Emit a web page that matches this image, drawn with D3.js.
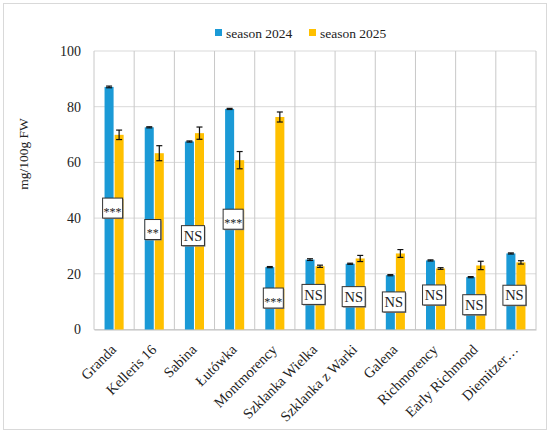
<!DOCTYPE html>
<html>
<head>
<meta charset="utf-8">
<script src="https://cdn.jsdelivr.net/npm/d3@7"></script>
<style>
	body { margin: 0; background: #fff; }
	text { font-family: "Palatino Linotype", "Book Antiqua", "Liberation Serif", serif; fill: #222; }
</style>
</head>
<body>
<div id="chart"></div>
<script>
var cultivars = ['Granda', 'Kelleris 16', 'Sabina', 'Łutówka', 'Montmorency', 'Szklanka Wielka',
	'Szklanka z Warki', 'Galena', 'Richmorency', 'Early Richmond', 'Diemitzer…'];
var season2024 = [87.1, 72.6, 67.5, 79.2, 22.4, 25.1, 23.6, 19.5, 24.8, 18.8, 27.3];
var season2024Err = [0.3, 0.2, 0.2, 0.2, 0.2, 0.3, 0.2, 0.2, 0.2, 0.2, 0.2];
var season2025 = [69.9, 63.3, 70.5, 60.8, 76.3, 22.7, 25.5, 27.3, 21.9, 23.0, 24.1];
var season2025Err = [1.7, 2.7, 2.2, 3.1, 1.8, 0.4, 1.1, 1.4, 0.3, 1.5, 0.6];
var signif = ['***', '**', 'NS', '***', '***', 'NS', 'NS', 'NS', 'NS', 'NS', 'NS'];
var signifPos = [43.6, 35.9, 33.7, 39.6, 11.3, 12.6, 11.8, 9.9, 12.4, 8.9, 12.3];
var yTicks = [0, 20, 40, 60, 80, 100];
var seriesNames = ['season 2024', 'season 2025'];
var colors = ['#1b9ad6', '#ffc000'];

var width = 550, height = 437;
var margin = {top: 51, right: 14, bottom: 107.5, left: 94};
var serif = '"Palatino Linotype", "Book Antiqua", "Liberation Serif", serif';

var svg = d3.select('#chart').append('svg')
	.attr('width', width)
	.attr('height', height);

// outer frame
svg.append('rect')
	.attr('x', 3.5).attr('y', 3.5)
	.attr('width', width - 7).attr('height', height - 11)
	.attr('fill', '#fff')
	.attr('stroke', '#d9d9d9');

var x = d3.scaleBand()
	.domain(cultivars)
	.range([margin.left, width - margin.right]);

var y = d3.scaleLinear()
	.domain([0, 100])
	.range([height - margin.bottom, margin.top]);

var inner = d3.scaleBand()
	.domain([0, 1])
	.range([0, x.bandwidth()])
	.paddingInner(0.1)
	.paddingOuter(1.05);

// horizontal grid
svg.append('g')
	.selectAll('line')
	.data(yTicks)
	.enter()
	.append('line')
	.attr('x1', margin.left).attr('x2', width - margin.right)
	.attr('y1', function(d) { return y(d) }).attr('y2', function(d) { return y(d) })
	.attr('stroke', '#d9d9d9');

// vertical separators
svg.append('g')
	.selectAll('line')
	.data(cultivars.concat([null]))
	.enter()
	.append('line')
	.attr('x1', function(d) { return d === null ? x.range()[1] : x(d) })
	.attr('x2', function(d) { return d === null ? x.range()[1] : x(d) })
	.attr('y1', y(100)).attr('y2', y(0))
	.attr('stroke', '#c8c8c8');

// y axis labels
var yAxis = svg.append('g')
	.attr('transform', 'translate(' + (margin.left - 13) + ',0)')
	.call(d3.axisLeft(y).tickValues(yTicks).tickSize(0).tickPadding(0));
yAxis.select('.domain').remove();
yAxis.selectAll('text')
	.style('font-family', serif)
	.style('font-size', '14px')
	.attr('fill', '#222');

svg.append('text')
	.attr('transform', 'translate(28,' + 154 + ') rotate(-90)')
	.attr('text-anchor', 'middle')
	.style('font-size', '13.5px')
	.text('mg/100g FW');

// x axis labels
var xAxis = svg.append('g')
	.attr('transform', 'translate(0,' + y(0) + ')')
	.call(d3.axisBottom(x).tickSize(0).tickPadding(0));
xAxis.select('.domain').attr('stroke', '#bfbfbf');
xAxis.selectAll('text')
	.style('font-family', serif)
	.style('font-size', '14.5px')
	.attr('fill', '#222')
	.attr('text-anchor', 'end')
	.attr('dy', 0)
	.attr('transform', 'translate(3,21) rotate(-45)');

// bars
var rows = cultivars.map(function(c, i) {
	return {
		name: c,
		values: [
			{s: 0, v: season2024[i], e: season2024Err[i]},
			{s: 1, v: season2025[i], e: season2025Err[i]}
		]
	};
});

var groups = svg.selectAll('.group')
	.data(rows)
	.enter()
	.append('g')
	.attr('class', 'group')
	.attr('transform', function(d) { return 'translate(' + x(d.name) + ',0)' });

groups.selectAll('rect')
	.data(function(d) { return d.values })
	.enter()
	.append('rect')
	.attr('x', function(d) { return inner(d.s) })
	.attr('width', inner.bandwidth())
	.attr('y', function(d) { return y(d.v) })
	.attr('height', function(d) { return y(0) - y(d.v) })
	.attr('fill', function(d) { return colors[d.s] });

var errs = groups.selectAll('.err')
	.data(function(d) { return d.values })
	.enter()
	.append('g')
	.attr('class', 'err')
	.attr('stroke', '#111')
	.attr('stroke-width', 1.2);

errs.append('line')
	.attr('x1', function(d) { return inner(d.s) + inner.bandwidth() / 2 })
	.attr('x2', function(d) { return inner(d.s) + inner.bandwidth() / 2 })
	.attr('y1', function(d) { return y(d.v + d.e) })
	.attr('y2', function(d) { return y(d.v - d.e) });

errs.selectAll('.cap')
	.data(function(d) { return [d.v + d.e, d.v - d.e].map(function(v) { return {s: d.s, v: v} }) })
	.enter()
	.append('line')
	.attr('x1', function(d) { return inner(d.s) + inner.bandwidth() / 2 - 3 })
	.attr('x2', function(d) { return inner(d.s) + inner.bandwidth() / 2 + 3 })
	.attr('y1', function(d) { return y(d.v) })
	.attr('y2', function(d) { return y(d.v) });

// significance boxes
var boxes = svg.selectAll('.sig')
	.data(cultivars)
	.enter()
	.append('g')
	.attr('class', 'sig')
	.attr('transform', function(d, i) {
		return 'translate(' + (x(d) + x.bandwidth() / 2 - 1.5) + ',' + y(signifPos[i]) + ')';
	});

boxes.each(function(d, i) {
	var g = d3.select(this);
	var w = signif[i] === 'NS' ? 23 : (signif[i] === '**' ? 16 : 20);
	g.append('rect')
		.attr('x', -w / 2 + 1).attr('y', -9)
		.attr('width', w).attr('height', 20)
		.attr('fill', '#8a8a8a');
	g.append('rect')
		.attr('x', -w / 2).attr('y', -10)
		.attr('width', w).attr('height', 20)
		.attr('fill', '#fff')
		.attr('stroke', '#333')
		.attr('stroke-width', 1);
	g.append('text')
		.attr('text-anchor', 'middle')
		.attr('dy', signif[i] === 'NS' ? '0.36em' : '0.65em')
		.style('font-size', signif[i] === 'NS' ? '14.5px' : '12px')
		.text(signif[i]);
});

// legend
var legend = svg.append('g')
	.attr('transform', 'translate(215,33)');

var items = legend.selectAll('g')
	.data(seriesNames)
	.enter()
	.append('g')
	.attr('transform', function(d, i) { return 'translate(' + (i * 94) + ',0)' });

items.append('rect')
	.attr('x', 0).attr('y', -4)
	.attr('width', 7).attr('height', 7)
	.attr('fill', function(d, i) { return colors[i] });

items.append('text')
	.attr('x', 11)
	.attr('dy', '0.35em')
	.style('font-size', '13.5px')
	.text(function(d) { return d });
</script>
</body>
</html>
